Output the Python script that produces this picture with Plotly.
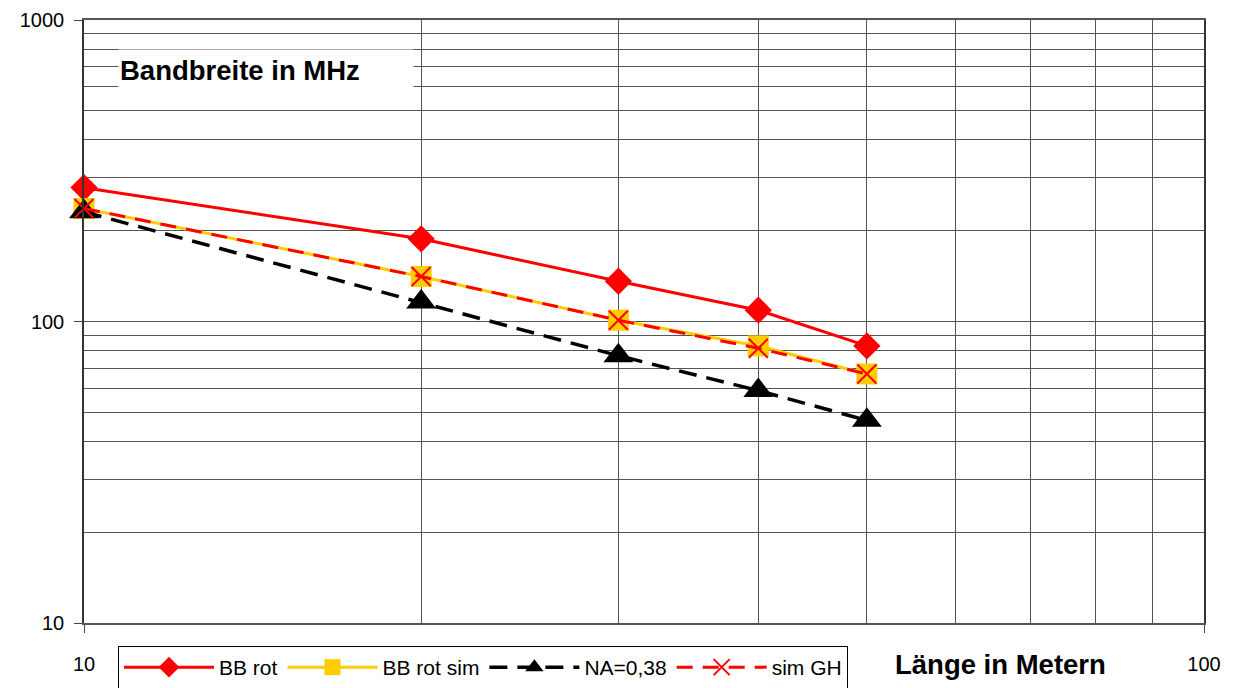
import plotly.graph_objects as go

laenge = [10, 20, 30, 40, 50]
bb_rot = [278, 188, 136, 109, 83]
bb_rot_sim = [237, 141, 101, 83, 67]
na_038 = [231, 116, 77, 59, 47]
sim_gh = [237, 141, 101, 81.5, 67]

x_ticks = [10, 100]
y_ticks = [10, 100, 1000]
x_minor = [20, 30, 40, 50, 60, 70, 80, 90]
y_minor = [20, 30, 40, 50, 60, 70, 80, 90, 200, 300, 400, 500, 600, 700, 800, 900]

FONT = "Liberation Sans, Arial, sans-serif"

fig = go.Figure()
fig.add_trace(go.Scatter(x=laenge, y=bb_rot, name="BB rot", mode="lines+markers", cliponaxis=False,
                         line=dict(color="#FF0000", width=3),
                         marker=dict(symbol="diamond", size=21, color="#FF0000")))
fig.add_trace(go.Scatter(x=laenge, y=bb_rot_sim, name="BB rot sim", mode="lines+markers", cliponaxis=False,
                         line=dict(color="#FFCC00", width=3),
                         marker=dict(symbol="square", size=21, color="#FFCC00")))
fig.add_trace(go.Scatter(x=laenge, y=na_038, name="NA=0,38", mode="lines+markers", cliponaxis=False,
                         line=dict(color="#000000", width=3.5, dash="18px,10px"),
                         marker=dict(symbol="triangle-up", size=26, color="#000000")))
fig.add_trace(go.Scatter(x=laenge, y=sim_gh, name="sim GH", mode="lines+markers", cliponaxis=False,
                         line=dict(color="#FF0000", width=3, dash="16px,10px"),
                         marker=dict(symbol="x-thin", size=19, color="#FF0000",
                                     line=dict(color="#FF0000", width=2))))

fig.update_xaxes(type="log", range=[1, 2], tickvals=x_ticks, ticktext=[str(v) for v in x_ticks],
                 ticks="outside", ticklen=8, tickcolor="#444", showline=True, linecolor="#555",
                 linewidth=1.5, mirror=True, showgrid=False, zeroline=False, automargin=False,
                 tickfont=dict(family=FONT, size=20, color="#000"), ticklabelstandoff=14,
                 minor=dict(tickvals=x_minor, showgrid=True, gridcolor="#555", gridwidth=1, ticks=""))
fig.update_yaxes(type="log", range=[1, 3], tickvals=y_ticks, ticktext=[str(v) for v in y_ticks],
                 ticks="outside", ticklen=8, tickcolor="#444", showline=True, linecolor="#333",
                 linewidth=1.5, mirror=True, showgrid=True, gridcolor="#555", gridwidth=1,
                 zeroline=False, automargin=False, tickfont=dict(family=FONT, size=20, color="#000"),
                 ticklabelstandoff=6,
                 minor=dict(tickvals=y_minor, showgrid=True, gridcolor="#555", gridwidth=1, ticks=""))

fig.add_annotation(text="<b>Bandbreite in MHz</b>", xref="paper", yref="paper",
                   x=0.030, y=0.917, xanchor="left", yanchor="middle", showarrow=False,
                   width=292, height=38, align="left", bgcolor="#FFFFFF",
                   font=dict(family=FONT, size=27.5, color="#000"))
fig.add_annotation(text="<b>Länge in Metern</b>", xref="paper", yref="paper",
                   x=0.818, y=-0.068, xanchor="center", yanchor="middle", showarrow=False,
                   font=dict(family=FONT, size=27.5, color="#000"))

fig.update_layout(
    width=1234, height=688,
    margin=dict(l=76, r=38, t=12, b=73, autoexpand=False),
    plot_bgcolor="#FFFFFF", paper_bgcolor="#FFFFFF",
    showlegend=True,
    legend=dict(orientation="h", xref="container", yref="container",
                x=110 / 1234, y=1 - 638 / 688, xanchor="left", yanchor="top",
                bordercolor="#000", borderwidth=1, bgcolor="#FFFFFF",
                font=dict(family=FONT, size=21, color="#000"),
                itemwidth=90, entrywidth=0, traceorder="normal"),
)

fig.write_html("out.html")
